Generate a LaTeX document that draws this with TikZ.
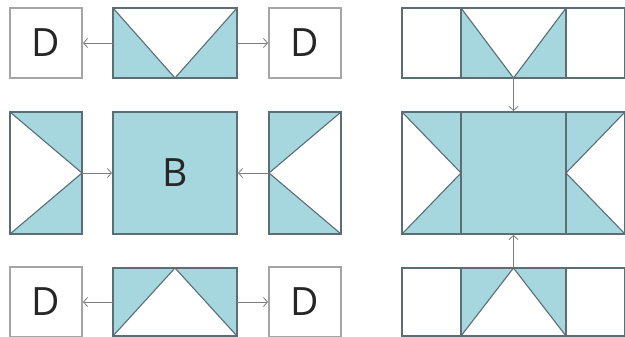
\documentclass[tikz,border=0pt]{standalone}
\usepackage{fontspec}
\setsansfont{Open Sans}
\usetikzlibrary{backgrounds,arrows.meta}
\definecolor{quilt}{RGB}{166,214,222}
\definecolor{seam}{RGB}{90,110,116}
\definecolor{frame}{RGB}{165,165,165}
\definecolor{tip}{RGB}{125,125,125}
\tikzset{
  patch/.style={draw=seam, line width=1.3pt, inner sep=0pt, outer sep=0pt},
  letter/.style={font=\sffamily\fontsize{39}{39}\selectfont, text=black!85},
  dbox/.style={draw=frame, line width=1.6pt, inner sep=0pt, outer sep=0pt, minimum width=72pt, minimum height=70pt, letter},
  link/.style={draw=tip, line width=0.8pt, -{Straight Barb[length=4pt,width=9pt]}, shorten >=1pt},
}
\begin{document}
\begin{tikzpicture}[x=1pt,y=-1pt]
\useasboundingbox (0,0) rectangle (625,337);
\node[dbox](dTL) at (46,43){D};
\node[patch, minimum width=124pt, minimum height=70pt](gTop) at (175,43){};
\node[dbox](dTR) at (305,43){D};
\node[patch, minimum width=72pt, minimum height=122pt](hL) at (46,173){};
\node[patch, letter, fill=quilt, minimum width=124pt, minimum height=122pt](blk) at (175,173){B};
\node[patch, minimum width=72pt, minimum height=122pt](hR) at (305,173){};
\node[dbox](dBL) at (46,302){D};
\node[patch, minimum width=124pt, minimum height=68pt](gBot) at (175,302){};
\node[dbox](dBR) at (305,302){D};
\node[patch, minimum width=59pt, minimum height=70pt](tL) at (431.5,43){};
\node[patch, minimum width=105pt, minimum height=70pt](tG) at (513.5,43){};
\node[patch, minimum width=59pt, minimum height=70pt](tR) at (595.5,43){};
\node[patch, minimum width=59pt, minimum height=122pt](mL) at (431.5,173){};
\node[patch, fill=quilt, minimum width=105pt, minimum height=122pt](mC) at (513.5,173){};
\node[patch, minimum width=59pt, minimum height=122pt](mR) at (595.5,173){};
\node[patch, minimum width=59pt, minimum height=68pt](bL) at (431.5,302){};
\node[patch, minimum width=105pt, minimum height=68pt](bG) at (513.5,302){};
\node[patch, minimum width=59pt, minimum height=68pt](bR) at (595.5,302){};
\begin{scope}[on background layer]
\fill[quilt](gTop.north west)--(gTop.south)--(gTop.south west)--cycle(gTop.north east)--(gTop.south)--(gTop.south east)--cycle
  (hL.north west)--(hL.east)--(hL.north east)--cycle(hL.south west)--(hL.east)--(hL.south east)--cycle
  (hR.north east)--(hR.west)--(hR.north west)--cycle(hR.south east)--(hR.west)--(hR.south west)--cycle
  (gBot.north west)--(gBot.north)--(gBot.south west)--cycle(gBot.north east)--(gBot.north)--(gBot.south east)--cycle
  (tG.north west)--(tG.south)--(tG.south west)--cycle(tG.north east)--(tG.south)--(tG.south east)--cycle
  (mL.north west)--(mL.east)--(mL.north east)--cycle(mL.south west)--(mL.east)--(mL.south east)--cycle
  (mR.north east)--(mR.west)--(mR.north west)--cycle(mR.south east)--(mR.west)--(mR.south west)--cycle
  (bG.north west)--(bG.north)--(bG.south west)--cycle(bG.north east)--(bG.north)--(bG.south east)--cycle;
\end{scope}
\draw[seam, line width=1.1pt](gTop.north west)--(gTop.south)--(gTop.north east)
  (hL.north west)--(hL.east)--(hL.south west)(hR.north east)--(hR.west)--(hR.south east)
  (gBot.south west)--(gBot.north)--(gBot.south east)
  (tG.north west)--(tG.south)--(tG.north east)
  (mL.north west)--(mL.east)--(mL.south west)(mR.north east)--(mR.west)--(mR.south east)
  (bG.south west)--(bG.north)--(bG.south east);
\draw[link](gTop)--(dTL);
\draw[link](gTop)--(dTR);
\draw[link](hL)--(blk);
\draw[link](hR)--(blk);
\draw[link](gBot)--(dBL);
\draw[link](gBot)--(dBR);
\draw[link](tG)--(mC);
\draw[link](bG)--(mC);
\end{tikzpicture}
\end{document}
